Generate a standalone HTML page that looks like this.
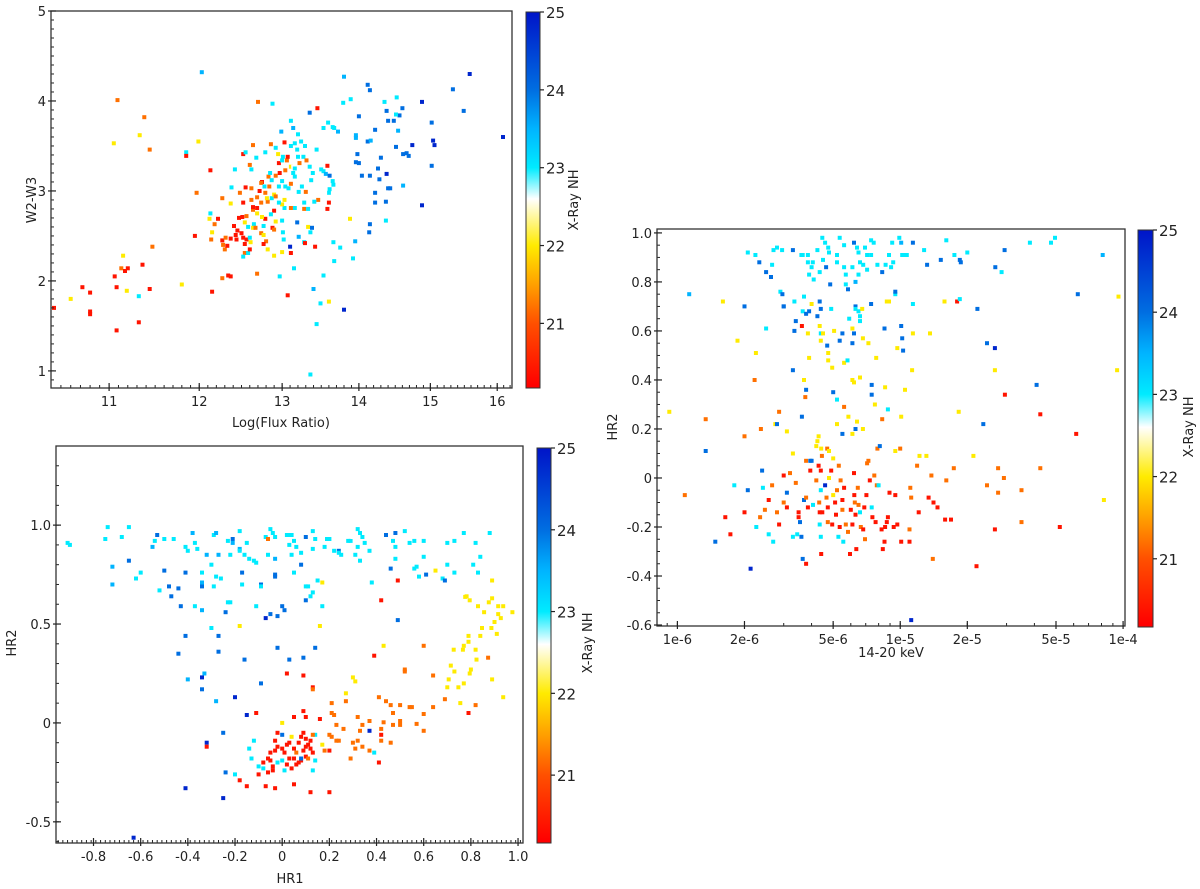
<!DOCTYPE html>
<html><head><meta charset="utf-8"><style>
html,body{margin:0;padding:0;background:#fff;}
svg{display:block;font-family:"DejaVu Sans","Liberation Sans",sans-serif;}
</style></head><body>
<svg id="fig" width="1200" height="889" viewBox="0 0 1200 889"></svg>
<script>
// ---------- data (x, y, X-Ray NH) ----------
const panel1Points = [
[10.43,1.70,20.4],[10.6,1.80,22],[10.72,1.93,20.4],[10.8,1.87,20.4],[10.8,1.66,20.4],[10.8,1.63,20.4],[10.87,2.10,22.6],[11.06,2.05,20.4],[11.08,1.93,20.4],[11.08,1.45,20.4],[11.13,2.14,21.2],[11.17,2.11,20.4],[11.2,2.14,20.4],[11.15,2.28,22],[11.19,1.89,22],[11.32,1.83,23],[11.32,1.54,20.4],[11.36,2.18,20.4],[11.44,1.91,20.4],[11.47,2.38,21.2],
[11.09,4.01,21.2],[11.05,3.53,22],[11.33,3.62,22],[11.38,3.82,21.2],[11.44,3.46,21.2],[11.85,3.43,23],[11.85,3.39,20.4],[11.8,1.96,22],[11.98,1.84,22.6],[11.97,2.98,21.2],[11.99,3.55,22],[12.03,4.32,23.5],[12.13,3.23,20.4],[12.13,2.75,23],[12.15,1.88,20.4],[11.95,2.5,20.4],[12.12,2.69,22],
[12.27,2.03,21.2],[12.34,2.06,20.4],[12.37,2.05,20.4],[12.69,2.08,21.2],[12.58,1.96,22.6],[13.07,1.84,20.4],[13.02,2.14,22.6],[12.97,2.05,23],[13.15,2.14,23],[13.4,1.91,23.5],[13.49,1.75,23],[13.6,1.77,22],[13.44,1.52,23],[13.36,0.96,23],[13.8,1.68,24.8],[13.67,2.22,23],[13.53,2.06,23],[13.92,2.25,23],[14.04,2.13,22.6],[13.95,2.44,23.5],[13.75,2.37,23],[13.66,2.43,23],[13.88,2.69,22],
[14.14,2.54,24],[14.15,2.63,24],[14.37,2.67,23],[14.22,2.87,24],[14.37,2.88,24],[14.22,2.98,24],[14.4,3.03,24],[14.43,3.03,24],[14.61,3.06,23.5],[14.88,2.84,24.8],[14.28,3.13,24],[14.38,3.19,24.8],[14.15,3.17,24],[14.04,3.17,24],[14.26,3.25,24],[14.3,3.37,24],[15.02,3.28,24],[15.04,3.56,24.8],[15.06,3.51,24.8],[15.02,3.76,24],[14.74,3.51,24.8],[14.69,3.39,24],[14.66,3.42,24],[14.61,3.41,24],[14.51,3.49,24],[14.54,3.67,23.5],[14.48,3.78,24],[14.56,3.84,24],[14.51,3.85,23],[14.38,3.89,24],[14.4,3.78,24],[14.6,3.92,24],[14.52,4.04,23],[14.35,3.99,23],[14.88,3.99,24.8],[14.12,4.18,24],[14.15,4.12,24],[15.33,4.13,24],[15.49,3.89,24],[15.58,4.30,24.8],[16.09,3.6,24.8],
[14.22,3.68,24],[14.12,3.55,24],[14.16,3.56,23.5],[13.96,3.62,23.5],[13.96,3.59,23.5],[13.98,3.41,24],[14.0,3.31,24],[13.96,3.32,24],[14.0,3.83,24],[13.89,4.02,23],[13.79,3.98,23],[13.8,4.27,23.5],[13.72,3.66,23.5],[13.65,3.71,23],[13.67,3.70,23],[13.59,3.76,23],[13.53,3.70,23],[13.49,3.77,22.6],[13.45,3.92,20.4],[13.35,3.87,24],[13.11,3.78,23],[13.14,3.70,23.5],[13.2,3.63,23],[12.88,3.97,23],[12.83,3.88,22.6],[12.7,3.99,21.2],[12.99,3.66,23.5],[13.03,3.54,20.4],[12.92,3.48,23],[12.86,3.52,21.2],[12.79,3.43,23],[12.68,3.37,23],[12.64,3.51,21.2],[12.52,3.41,20.4],[12.55,3.43,23],[12.6,3.29,21.2],[12.62,3.24,23],[12.42,3.24,23],[12.38,3.04,23],[12.48,2.98,21.2],[12.55,3.04,20.4],[12.62,3.03,21.2],[12.52,2.87,20.4],[12.27,2.92,21.2],[12.37,2.86,22],
[12.22,2.69,20.4],[12.18,2.63,21.2],[12.15,2.54,22],[12.14,2.46,21.2],[12.27,2.45,20.4],[12.28,2.40,21.2],[12.3,2.35,21.2],[12.33,2.39,20.4],[12.31,2.48,21.2],[12.37,2.47,20.4],[12.41,2.61,20.4],[12.43,2.51,20.4],[12.44,2.46,20.4],[12.45,2.56,20.4],[12.5,2.53,20.4],[12.52,2.48,20.4],[12.56,2.46,20.4],[12.47,2.70,20.4],[12.51,2.71,20.4],[12.56,2.72,21.2],[12.54,2.65,22],[12.58,2.6,23],[12.54,2.41,20.4],[12.54,2.31,21.2],[12.52,2.27,23],[12.58,2.31,23],[12.6,2.35,20.4],[12.6,2.48,23],[12.61,2.43,22],[12.65,2.63,23],[12.64,2.59,22],[12.67,2.59,21.2],[12.69,2.75,22],[12.69,2.81,20.4],[12.64,2.79,21.2],[12.62,2.9,21.2],[12.64,2.82,20.4],[12.74,2.87,21.2],[12.69,2.93,21.2],[12.72,3.0,20.4],[12.75,3.1,20.4],[12.74,3.09,21.2],[12.78,3.05,23],[12.83,3.16,21.2],[12.85,3.20,23],[12.87,3.12,23],[12.92,3.17,21.2],[12.97,3.2,20.4],[12.96,3.31,20.4],[12.95,3.41,22],[13.01,3.38,23],[13.0,3.34,23],[13.06,3.34,21.2],[13.07,3.38,20.4],[13.04,3.23,21.2],[13.11,3.27,22],[13.14,3.27,22.6],[13.16,3.16,23],[13.14,3.2,23],[13.16,3.25,23],[13.22,3.31,21.2],[13.2,3.38,23],[13.19,3.46,23],[13.11,3.5,23],[13.16,3.53,23],[13.24,3.55,23],[13.29,3.5,23],[13.27,3.38,23],[13.31,3.34,21.2],[13.35,3.27,23],[13.39,3.2,23],[13.37,3.12,23],[13.25,3.05,23],[13.3,2.99,21.2],[13.21,2.99,23],[13.44,3.46,23],[13.46,3.31,22.6],[13.5,3.24,23],[13.53,3.22,23],[13.56,3.19,23.5],[13.58,3.28,20.4],[13.61,3.17,24],[13.65,3.11,23],[13.66,3.07,23],[13.6,2.98,23],[13.55,2.98,22.6],[13.61,3.02,23],[13.6,2.87,20.4],[13.46,2.9,21.2],[13.41,2.88,23],[13.28,2.87,23],[13.28,2.8,21.2],[13.33,2.8,23],[13.58,2.8,20.4],
[13.16,2.81,23],[13.11,2.81,21.2],[13.03,2.81,23],[13.0,2.85,22],[12.96,2.87,23],[13.03,2.9,22],[12.82,2.88,21.2],[12.87,2.92,23],[12.9,2.96,22],[12.92,2.94,21.2],[12.79,2.98,21.2],[12.81,2.92,22],[12.84,3.05,21.2],[12.96,3.05,23],[13.0,3.11,23],[13.04,3.05,23],[13.08,3.03,23],[13.11,3.08,21.2],[12.9,2.78,20.4],[12.86,2.74,23],[12.79,2.69,20.4],[12.75,2.71,22],[12.77,2.61,23],[12.92,2.66,22],[12.88,2.59,20.4],[12.9,2.57,21.2],[13.0,2.67,23],[13.01,2.54,23],[13.02,2.46,23],[13.19,2.65,24],[12.74,2.53,21.2],[12.77,2.51,22],[12.8,2.44,21.2],[12.77,2.41,20.4],[12.82,2.35,22],[12.9,2.28,22],[13.0,2.32,22],[13.1,2.38,24.8],[13.11,2.31,20.4],[13.21,2.49,23.5],[13.28,2.43,23],[13.29,2.42,20.4],[13.33,2.6,22],[13.38,2.59,24],[13.36,2.54,23],[13.42,2.38,20.4]
];
const panel2Points = [
[-0.91,0.91,23],[-0.90,0.90,23],[-0.75,0.93,23],[-0.74,0.99,23],[-0.68,0.94,23],[-0.65,0.99,23],[-0.72,0.79,23.5],[-0.72,0.70,23.5],[-0.65,0.82,24],[-0.62,0.73,23],[-0.60,0.76,23],[-0.55,0.89,23.5],[-0.54,0.92,23],[-0.53,0.95,24],[-0.52,0.67,23],[-0.50,0.77,24],[-0.50,0.93,23],[-0.46,0.93,23],[-0.48,0.69,24],[-0.47,0.64,24],[-0.44,0.68,24],[-0.43,0.59,24],[-0.41,0.76,24],[-0.41,0.44,24],[-0.44,0.35,24],
[-0.41,0.89,23],[-0.40,0.87,23],[-0.38,0.96,23.5],[-0.37,0.91,23],[-0.36,0.88,23],[-0.37,0.59,23],[-0.34,0.57,23.5],[-0.34,0.69,24],[-0.34,0.71,23.5],[-0.34,0.76,23],[-0.32,0.85,23.5],[-0.30,0.80,23],[-0.29,0.95,23],[-0.28,0.96,23.5],[-0.28,0.74,23],[-0.26,0.73,23],[-0.29,0.69,23],[-0.30,0.48,23],[-0.27,0.44,24],[-0.27,0.36,24],[-0.40,0.22,23.5],[-0.34,0.23,24.8],[-0.34,0.17,24],[-0.33,0.25,23.5],[-0.28,0.11,23.5],
[-0.27,0.85,23.5],[-0.23,0.92,23],[-0.22,0.85,23],[-0.21,0.93,24],[-0.21,0.91,23.5],[-0.23,0.61,23],[-0.22,0.61,23],[-0.24,0.56,24],[-0.18,0.88,23.5],[-0.17,0.76,24],[-0.17,0.70,23],[-0.18,0.87,23],[-0.18,0.97,23],[-0.16,0.32,24],[-0.20,0.13,24.8],[-0.15,0.04,24.8],[-0.18,0.49,22],[-0.16,0.85,23],[-0.15,0.91,23],[-0.14,0.83,23],[-0.11,0.81,23],[-0.12,0.82,23],[-0.09,0.70,24],[-0.09,0.69,23],[-0.11,0.59,23],[-0.09,0.20,24],
[-0.07,0.53,24.8],[-0.05,0.55,24],[-0.02,0.54,24],[-0.02,0.38,24],[0.03,0.32,24],[-0.03,0.74,24],[-0.03,0.75,24],[0.0,0.59,24],[0.01,0.57,24],[-0.07,0.94,23],[-0.05,0.98,23],[-0.04,0.96,23],[-0.03,0.94,23],[-0.06,0.93,21.2],[-0.03,0.83,23.5],[-0.06,0.85,23],[0.02,0.95,23],[0.03,0.90,23],[0.03,0.95,23],[0.04,0.95,23],[0.05,0.92,23],[0.04,0.85,23],[0.06,0.89,23],[0.08,0.80,24],[0.08,0.86,23],[0.05,0.76,23],[0.10,0.94,24],[0.10,0.69,23],[0.11,0.69,23],[0.10,0.62,24],[0.12,0.64,23],[0.13,0.66,23],[0.14,0.38,24],[0.09,0.33,24],[0.15,0.72,23],[0.17,0.59,23],[-0.02,0.69,22.6],[0.17,0.71,22],[0.16,0.49,22],
[0.13,0.97,23],[0.14,0.93,23],[0.13,0.88,23],[0.18,0.89,23],[0.19,0.93,23],[0.20,0.93,23],[0.22,0.87,23],[0.24,0.87,24],[0.24,0.86,23],[0.25,0.85,23],[0.28,0.92,23],[0.29,0.92,23],[0.30,0.94,22.6],[0.32,0.98,23],[0.33,0.96,23],[0.34,0.94,23],[0.32,0.89,23],[0.31,0.85,23],[0.33,0.82,23],[0.35,0.91,23],[0.37,0.87,23],[0.38,0.79,22.6],[0.39,0.80,22.6],[0.38,0.71,23],[0.42,0.77,22.6],[0.44,0.95,24],[0.46,0.78,24],[0.47,0.92,23],[0.48,0.89,23],[0.48,0.83,23],[0.48,0.96,24],[0.49,0.72,20.4],[0.49,0.52,24],[0.42,0.62,20.4],[0.39,0.34,20.4],
[0.52,0.97,23],[0.54,0.91,23],[0.56,0.92,23],[0.56,0.78,23],[0.57,0.79,23],[0.60,0.92,23],[0.60,0.84,23],[0.58,0.74,23],[0.61,0.75,24],[0.63,0.72,22.6],[0.65,0.77,22],[0.66,0.69,22.6],[0.68,0.73,23],[0.70,0.91,23],[0.70,0.80,23],[0.69,0.72,24],[0.73,0.76,23],[0.73,0.92,23],[0.77,0.96,23],[0.77,0.89,22.6],[0.76,0.79,22.6],[0.81,0.80,23],[0.81,0.77,22.6],[0.82,0.91,23],[0.83,0.76,23],[0.84,0.84,23],[0.87,0.85,22.6],[0.88,0.96,23],[0.83,0.73,22.6],[0.85,0.72,22.6],[0.87,0.76,22.6],[0.89,0.72,22],[0.91,0.76,22.6],[0.94,0.76,22.6],[0.95,0.75,22.6],
[0.776,0.637,22],[0.782,0.64,22],[0.795,0.62,22],[0.83,0.59,22],[0.856,0.56,22],[0.876,0.61,22],[0.89,0.63,22],[0.916,0.59,22],[0.937,0.59,22],[0.976,0.56,22],[0.916,0.55,22],[0.927,0.53,22],[0.90,0.51,22],[0.887,0.48,22],[0.847,0.48,22],[0.84,0.44,22],[0.79,0.44,22],[0.79,0.41,22],[0.77,0.39,22],[0.82,0.37,22],[0.91,0.45,22],[0.873,0.33,21.2],[0.824,0.32,22],[0.80,0.27,22],[0.715,0.29,22],[0.706,0.22,22],[0.70,0.18,22],[0.73,0.26,22],[0.747,0.18,22],[0.77,0.20,22],[0.795,0.25,22],[0.89,0.22,22],[0.937,0.13,22],[0.755,0.10,22],[0.69,0.12,21.2],[0.82,0.09,21.2],[0.79,0.05,20.4],[0.766,0.37,22],[0.727,0.37,22],
[0.60,0.39,21.2],[0.64,0.24,21.2],[0.52,0.27,21.2],[0.52,0.26,21.2],[0.43,0.39,22],[0.41,0.13,21.2],[0.44,0.11,21.2],[0.46,0.09,21.2],[0.47,0.05,21.2],[0.50,0.09,21.2],[0.54,0.08,21.2],[0.55,0.08,21.2],[0.50,0.01,21.2],[0.57,-0.005,21.2],[0.60,0.045,21.2],[0.60,-0.04,21.2],[0.64,0.08,21.2],[0.50,-0.01,21.2],[0.47,-0.01,21.2],[0.43,0.003,21.2],[0.42,-0.03,21.2],[0.42,-0.06,20.4],[0.42,-0.09,21.2],[0.46,-0.10,21.2],[0.41,-0.20,20.4],[0.39,-0.15,23],[0.37,-0.04,24.8],[0.37,0.01,21.2],[0.34,-0.01,21.2],[0.33,-0.04,21.2],[0.32,-0.09,21.2],[0.30,-0.10,21.2],[0.31,-0.13,21.2],[0.34,-0.12,21.2],[0.37,-0.14,21.2],[0.29,-0.18,21.2],[0.26,-0.03,21.2],[0.23,-0.01,21.2],[0.22,0.04,21.2],[0.21,0.05,21.2],[0.21,0.10,21.2],[0.27,0.11,21.2],[0.27,0.15,22],[0.30,0.23,22],[0.31,0.21,22],[0.32,0.03,21.2],[0.23,-0.09,21.2],[0.24,-0.09,21.2],[0.20,-0.14,20.4],[0.18,-0.14,21.2],[0.17,-0.11,22],[0.20,-0.06,21.2],[0.21,-0.07,21.2],[0.16,0.02,20.4],[0.14,-0.06,23],[0.13,-0.06,21.2],[0.13,0.18,20.4],[0.13,0.17,21.2],[0.09,0.06,20.4],[0.10,0.03,20.4],[0.09,0.24,20.4],[0.02,0.25,20.4],[0.05,0.03,20.4],[0.0,0.0,22],[-0.11,0.05,20.4],
[0.20,-0.35,20.4],[0.12,-0.35,20.4],[0.05,-0.31,20.4],[-0.03,-0.33,20.4],[-0.07,-0.32,20.4],[-0.15,-0.32,20.4],[-0.18,-0.29,20.4],[-0.20,-0.26,23],[-0.24,-0.25,24],[-0.25,-0.05,24],[-0.32,-0.10,24.8],[-0.32,-0.12,20.4],[-0.41,-0.33,24.8],[-0.25,-0.38,24.8],[-0.12,-0.09,23],[-0.14,-0.13,23],[-0.13,-0.18,23],[-0.10,-0.26,20.4],[-0.08,-0.23,23],[-0.10,-0.22,23],
[-0.08,-0.20,20.4],[-0.06,-0.18,20.4],[-0.05,-0.15,20.4],[-0.04,-0.22,20.4],[-0.03,-0.14,20.4],[-0.02,-0.12,20.4],[0.0,-0.13,20.4],[0.01,-0.15,20.4],[0.02,-0.11,20.4],[-0.03,-0.09,20.4],[-0.02,-0.05,20.4],[0.0,-0.06,24],[0.03,-0.10,20.4],[0.04,-0.07,22],[0.05,-0.13,20.4],[0.07,-0.10,20.4],[0.08,-0.07,20.4],[0.09,-0.05,20.4],[0.10,-0.08,20.4],[0.11,-0.11,20.4],[0.12,-0.13,20.4],[0.13,-0.15,20.4],[0.10,-0.17,20.4],[0.08,-0.19,20.4],[0.06,-0.21,20.4],[0.04,-0.23,20.4],[0.02,-0.21,20.4],[0.0,-0.19,23],[-0.02,-0.20,23],[0.09,-0.14,20.4],[0.11,-0.18,21.2],[0.13,-0.24,23],[-0.04,-0.24,20.4],[-0.06,-0.25,20.4],[0.01,-0.24,23],[0.07,-0.20,20.4],[0.05,-0.18,20.4],[-0.05,-0.19,20.4],[0.06,-0.15,21.2],[0.03,-0.18,20.4],[0.10,-0.12,20.4],[0.12,-0.09,20.4],[0.14,-0.19,23],[0.08,-0.18,24],[-0.63,-0.58,24.8]
];
// panel 3: x in units of 1e-6 (14-20 keV flux), y = HR2
const panel3Points = [
[2.07,0.92,23],[2.24,0.91,23],[2.33,0.88,24],[2.5,0.84,24],[2.63,0.82,24],[2.66,0.87,23],[2.8,0.94,23],[2.7,0.93,23],[2.95,0.93,23],[2.9,0.76,23],[2.96,0.75,24],[3.0,0.70,24],[3.3,0.93,24],[3.35,0.72,23],[3.4,0.64,24],[3.35,0.6,24],[3.6,0.91,23],[3.65,0.91,23],[3.7,0.74,23],[3.65,0.68,23],[3.85,0.91,23],[3.85,0.88,23],[3.9,0.83,23],[4.0,0.86,23],[4.09,0.81,23],
[4.05,0.88,23],[4.25,0.93,23],[4.35,0.84,23],[4.47,0.98,23],[4.5,0.89,23],[4.6,0.96,23],[4.65,0.86,24],[4.75,0.94,23],[4.79,0.92,23],[4.85,0.79,24],[4.9,0.69,23],[5.2,0.91,23],[5.2,0.88,23],[5.35,0.98,23],[5.6,0.95,23],[5.6,0.86,23],[5.7,0.83,23],[5.7,0.79,23],[5.83,0.77,24],[6.1,0.86,23],[6.2,0.96,24],[6.3,0.80,23.5],[6.4,0.94,23],[6.5,0.92,23],[6.5,0.83,23],[6.6,0.88,23],[6.82,0.87,23],[6.95,0.94,23],[7.1,0.91,23],[7.1,0.85,23],[7.4,0.97,23],[7.4,0.91,23],[7.6,0.96,23],[7.9,0.87,23],[8.3,0.84,24],[8.6,0.87,23],[8.9,0.91,23],[9.1,0.86,23],[9.2,0.96,23],[9.3,0.88,23],
[9.9,0.98,23],[10.1,0.96,23.5],[10.2,0.91,23],[10.5,0.91,23],[10.7,0.91,23],[11.4,0.96,24],[12.8,0.93,23],[13.2,0.87,24],[15.2,0.89,24],[16.1,0.97,23],[17.5,0.91,23],[18.5,0.89,24],[18.7,0.88,24],[20,0.92,23],[19.9,0.85,22.6],[26.7,0.86,24],[28.5,0.84,23],[29.4,0.93,24],[38.2,0.96,23],[47.5,0.96,23],[49.5,0.98,23],[81,0.91,23.5],[62.6,0.75,24],[1.13,0.75,23.5],[95.4,0.74,22],
[1.6,0.72,22],[1.6,0.62,22.6],[1.86,0.56,22],[2.0,0.70,24],[2.25,0.51,22],[2.4,0.63,22.6],[2.5,0.61,23],[2.85,0.70,22.6],[3.0,0.70,24],
[3.62,0.62,20.4],[3.85,0.59,22],[3.9,0.49,22],[3.78,0.67,24],[3.9,0.68,24],[4.0,0.71,22],[4.09,0.76,22.6],[4.25,0.66,24],[4.35,0.72,24],[4.4,0.69,24],[4.35,0.62,22],[4.4,0.59,23],[4.4,0.56,22],[4.5,0.59,22],[4.7,0.54,24],[4.75,0.51,22],[4.75,0.48,22],[4.95,0.45,22],[5.05,0.60,22],[5.35,0.56,24],[5.5,0.59,24],[5.6,0.47,22],[5.8,0.48,23],[5.9,0.65,23],[6.1,0.55,24],[6.1,0.61,22],[6.2,0.59,24],[6.3,0.70,24],[6.3,0.69,23],[6.5,0.68,23],[6.6,0.64,23],[6.6,0.66,23],[6.75,0.69,22],[6.8,0.57,22],[7.1,0.59,22.6],[7.2,0.55,22],[7.4,0.71,24],[7.6,0.78,22.6],[7.8,0.49,22],[8.5,0.61,24],[8.7,0.72,22],[8.9,0.72,22],[9.5,0.75,23],[9.5,0.76,24],[9.7,0.53,22],[10.1,0.62,24],[10.2,0.57,24],[10.3,0.52,24],[11.4,0.71,23],[11.4,0.59,22],[11.7,0.63,22.6],[13.6,0.59,22],[14.7,0.79,22.6],[15.8,0.72,22],[18,0.72,20.4],[18.5,0.73,23],[22.2,0.69,24],[24.5,0.55,24],[26.6,0.53,24.8],[26.6,0.44,22],
[0.92,0.27,22],[1.34,0.24,21.2],[1.34,0.11,24],[2.0,0.17,21.2],[2.22,0.40,21.2],[2.37,0.20,21.2],[2.7,0.31,22.6],[2.75,0.22,22],[2.8,0.22,24],[2.86,0.27,21.2],[3.1,0.19,22],[3.3,0.44,24],[3.3,0.10,22],
[3.62,0.25,24],[3.7,0.40,22],[3.78,0.36,24],[3.75,0.33,21.2],[3.78,0.07,21.2],[3.95,0.07,24],[4.2,0.13,22],[4.25,0.15,22],[4.3,0.17,22],[4.42,0.12,22],[4.45,0.09,21.2],[4.7,0.12,21.2],[4.79,0.11,22],[5.0,0.08,22],[5.0,0.35,24],[5.2,0.32,23],[5.2,0.22,22],[5.3,0.05,21.2],[5.6,0.29,21.2],[5.85,0.25,22],[5.5,0.18,24],[6.1,0.18,22],[6.1,0.40,22],[6.2,0.39,22],[6.3,0.20,24],[6.4,0.23,22],[6.6,0.41,22],[6.8,0.20,22],[7.1,0.06,21.2],[7.7,0.30,22],[7.45,0.34,24],[7.45,0.38,24],[7.9,0.12,21.2],[8.1,0.13,24],[8.3,0.24,21.2],[8.55,0.37,22],[8.8,0.28,23],[9.5,0.11,22],[10,0.12,21.2],[10.1,0.25,22],[10.5,0.36,22],[11.3,0.44,22],[12.2,0.09,22],[13.1,0.09,22],
[18.3,0.27,22],[21.3,0.09,22],[23.6,0.22,24],[29.5,0.34,20.4],[40.9,0.38,24],[42.5,0.26,20.4],[61.6,0.18,20.4],[94,0.44,22],[42.5,0.04,21.2],[27.5,0.04,21.2],[29.2,0.0,21.2],[24.5,-0.03,21.2],[27.5,-0.06,21.2],[35,-0.05,21.2],[35,-0.18,21.2],[52,-0.20,20.4],[26.6,-0.21,20.4],[22,-0.36,20.4],[82,-0.09,22],[16.1,-0.01,21.2],[17.4,0.04,21.2],[13.8,0.01,21.2],[11.9,0.05,21.2],[14,-0.33,21.2],[15.9,-0.17,20.4],[16.9,-0.17,20.4],[14.7,-0.12,20.4],[14.1,-0.10,20.4],[13.4,-0.08,20.4],[12.1,-0.14,20.4],[11.1,-0.04,21.2],[11.2,-0.08,21.2],[11.0,-0.21,21.2],[11.0,-0.26,20.4],[11.2,-0.58,24.8],
[1.08,-0.07,21.2],[1.64,-0.16,20.4],[1.73,-0.23,20.4],[1.48,-0.26,24],[1.39,-0.23,22.6],[1.8,-0.03,23],[2.0,-0.14,20.4],[2.07,-0.05,24],[2.13,-0.37,24.8],[2.26,-0.20,23],[2.35,-0.16,21.2],[2.4,0.03,24],[2.42,-0.04,23],[2.47,-0.13,21.2],[2.57,-0.09,20.4],[2.57,-0.23,23],[2.66,-0.03,21.2],[2.69,-0.26,23],[2.8,-0.14,21.2],[2.86,-0.19,20.4],[3.0,0.01,20.4],[3.1,-0.12,20.4],[3.1,-0.06,24],[3.0,-0.10,21.2],[3.2,0.02,21.2],[3.3,-0.24,23],[3.4,-0.02,21.2],[3.45,-0.23,23],[3.5,-0.14,20.4],[3.55,-0.18,24],[3.5,-0.16,20.4],[3.6,-0.24,24],[3.65,-0.33,24],[3.78,-0.35,20.4],[3.7,-0.09,24],[3.78,-0.08,21.2],[3.85,-0.12,20.4],[3.95,0.03,20.4],[4.0,0.07,24],
[4.06,-0.11,23],[4.2,-0.01,21.2],[4.3,0.05,20.4],[4.33,-0.10,21.2],[4.35,-0.19,23],[4.35,-0.14,20.4],[4.4,0.03,20.4],[4.4,-0.05,23],[4.4,-0.24,23],[4.42,-0.31,20.4],[4.47,-0.14,20.4],[4.6,-0.03,24.8],[4.67,-0.08,21.2],[4.73,-0.12,20.4],[4.73,-0.18,21.2],[4.79,0.0,22],[4.9,0.03,20.4],[4.95,-0.19,20.4],[5.0,-0.07,22],[5.1,-0.10,20.4],[5.15,-0.15,20.4],[5.2,-0.05,21.2],[5.28,-0.24,23],[5.35,-0.20,20.4],[5.4,-0.01,21.2],[5.5,-0.13,21.2],[5.5,-0.09,20.4],[5.55,-0.26,23],[5.6,-0.04,20.4],[5.7,-0.19,21.2],[5.83,-0.22,21.2],[5.95,-0.31,20.4],[6.0,-0.13,20.4],[6.1,-0.19,20.4],[6.2,0.02,20.4],[6.22,-0.07,20.4],[6.25,-0.10,21.2],[6.3,-0.15,20.4],[6.35,-0.29,20.4],[6.45,-0.04,21.2],[6.5,-0.11,21.2],[6.6,-0.14,23],[6.65,-0.20,21.2],[6.82,-0.21,20.4],[6.9,-0.12,20.4],[6.95,-0.25,21.2],[7.05,-0.07,20.4],[7.2,0.07,21.2],[7.3,-0.01,20.4],[7.45,-0.12,23],[7.5,-0.16,20.4],[7.65,0.01,21.2],[7.75,-0.18,20.4],[7.85,-0.03,21.2],[8.0,-0.03,23],[8.25,-0.21,20.4],[8.35,-0.29,20.4],[8.5,-0.26,20.4],[8.55,-0.20,20.4],[8.7,-0.18,20.4],[8.8,-0.16,20.4],[8.95,-0.06,20.4],[9.35,-0.20,20.4],[9.5,-0.07,20.4],[9.7,-0.19,20.4],[10.1,-0.26,20.4]
];
const p1XTicks = [11,12,13,14,15,16];
const p1YTicks = [1,2,3,4,5];
const p2XTicks = [-0.8,-0.6,-0.4,-0.2,0,0.2,0.4,0.6,0.8,1.0];
const p2XLabels = ["-0.8","-0.6","-0.4","-0.2","0","0.2","0.4","0.6","0.8","1.0"];
const p2YTicks = [-0.5,0,0.5,1.0];
const p2YLabels = ["-0.5","0","0.5","1.0"];
const p3XTicks = [1,2,5,10,20,50,100];
const p3XLabels = ["1e-6","2e-6","5e-6","1e-5","2e-5","5e-5","1e-4"];
const p3YTicks = [-0.6,-0.4,-0.2,0,0.2,0.4,0.6,0.8,1.0];
const p3YLabels = ["-0.6","-0.4","-0.2","0","0.2","0.4","0.6","0.8","1.0"];
const cbTicks = [21,22,23,24,25];

// ---------- drawing ----------
const NS = "http://www.w3.org/2000/svg";
const svg = document.getElementById('fig');
function mk(tag, attrs, parent){
  const e = document.createElementNS(NS, tag);
  for (const k in attrs) e.setAttribute(k, attrs[k]);
  (parent||svg).appendChild(e);
  return e;
}
const stops = [[20.2,[255,0,0]],[21,[255,80,0]],[21.5,[255,160,0]],[22,[255,235,0]],[22.6,[255,255,255]],[23,[0,235,255]],[23.5,[0,180,255]],[24,[0,110,225]],[25,[0,20,200]]];
function cmap(v){
  if (v<=stops[0][0]) return 'rgb('+stops[0][1]+')';
  for (let i=1;i<stops.length;i++){
    if (v<=stops[i][0]){
      const a=stops[i-1], b=stops[i], t=(v-a[0])/(b[0]-a[0]);
      const c=a[1].map((x,j)=>Math.round(x+(b[1][j]-x)*t));
      return 'rgb('+c.join(',')+')';
    }
  }
  return 'rgb('+stops[stops.length-1][1]+')';
}
function scaleLin(d0,d1,r0,r1){ return v=> r0+(v-d0)/(d1-d0)*(r1-r0); }
function scaleLog(d0,d1,r0,r1){ return v=> r0+(Math.log(v)-Math.log(d0))/(Math.log(d1)-Math.log(d0))*(r1-r0); }
const gid = {n:0};
function defGrad(){
  const defs = mk('defs',{});
  const g = mk('linearGradient',{id:'cbgrad',x1:0,y1:1,x2:0,y2:0},defs);
  const lo=20.17, hi=25;
  stops.forEach(s=>{ const off=Math.max(0,(s[0]-lo)/(hi-lo)); mk('stop',{offset:off,'stop-color':cmap(s[0])},g); });
}
defGrad();

function panel(cfg){
  const g = mk('g',{});
  
  
  const {L,R,T,B} = cfg;
  const sx = cfg.xlog ? scaleLog(cfg.x0,cfg.x1,L,R) : scaleLin(cfg.x0,cfg.x1,L,R);
  const sy = scaleLin(cfg.y0,cfg.y1,B,T);
  mk('rect',{x:L,y:T,width:R-L,height:B-T,fill:'#fff'},g);
  // points
  const pg = mk('g',{},g);
  
  
  cfg.points.forEach(p=>{
    const x=sx(p[0]), y=sy(p[1]);
    const r = mk('rect',{x:(x-2).toFixed(1),y:(y-2).toFixed(1),width:4,height:4,fill:cmap(p[2])},pg);
    
    
  });
  // minor ticks
  cfg.xMinor.forEach(v=>{ const x=sx(v); if(x>L&&x<R) mk('line',{x1:x,x2:x,y1:B,y2:B-3,stroke:'#222','stroke-width':1},g); });
  cfg.yMinor.forEach(v=>{ const y=sy(v); if(y>T&&y<B) mk('line',{x1:L,x2:L+3,y1:y,y2:y,stroke:'#222','stroke-width':1},g); });
  // frame
  const fr = mk('rect',{x:L,y:T,width:R-L,height:B-T,fill:'none',stroke:'#333','stroke-width':1.3},g);
  
  
  // major ticks and labels
  cfg.xTicks.forEach((v,i)=>{
    const x=sx(v);
    mk('line',{x1:x,x2:x,y1:B+3,y2:B-5,stroke:'#222','stroke-width':1.2},g);
    const t=mk('text',{x:x,y:B+18,'text-anchor':'middle','font-size':13,fill:'#222'},g);
    t.textContent = cfg.xLabels[i];
    
    
  });
  cfg.yTicks.forEach((v,i)=>{
    const y=sy(v);
    mk('line',{x1:L-3,x2:L+5,y1:y,y2:y,stroke:'#222','stroke-width':1.2},g);
    const t=mk('text',{x:L-5,y:y+5,'text-anchor':'end','font-size':13,fill:'#222'},g);
    t.textContent = cfg.yLabels[i];
    
    
  });
  const xl=mk('text',{x:cfg.xlx,y:cfg.xly,'text-anchor':'middle','font-size':13,fill:'#222'},g);
  xl.textContent=cfg.xTitle;
  
  
  const yl=mk('text',{x:cfg.ylx,y:cfg.yly,'text-anchor':'middle','font-size':13,fill:'#222',transform:'rotate(-90 '+cfg.ylx+' '+cfg.yly+')'},g);
  yl.textContent=cfg.yTitle;
  
  
  // colorbar
  const c=cfg.cb;
  const cg = mk('g',{},g);
  
  
  mk('rect',{x:c.x,y:c.t,width:c.w,height:c.b-c.t,fill:'url(#cbgrad)',stroke:'#333','stroke-width':1},cg);
  const sc = scaleLin(20.17,25,c.b,c.t);
  cbTicks.forEach(v=>{
    const y=sc(v);
    mk('line',{x1:c.x+c.w,x2:c.x+c.w+4,y1:y,y2:y,stroke:'#222','stroke-width':1.2},cg);
    const t=mk('text',{x:c.x+c.w+6,y:y+6,'font-size':15,fill:'#222'},cg);
    t.textContent=String(v);
    
    
  });
  const cl=mk('text',{x:c.lx,y:c.ly,'text-anchor':'middle','font-size':13,fill:'#222',transform:'rotate(-90 '+c.lx+' '+c.ly+')'},cg);
  cl.textContent='X-Ray NH';
  
  
}
function range(a,b,s){ const r=[]; for(let v=a; v<=b+1e-9; v+=s) r.push(+v.toFixed(4)); return r; }
function logMinor(){ const r=[]; [0.1,1,10].forEach(d=>{ for(let k=1;k<10;k++) r.push(k*d);}); r.push(100); return r; }

panel({name:'wise-color-panel', L:51,R:512,T:11,B:388, xlog:true, x0:10.40,x1:16.23, y0:0.81,y1:5.0,
  points:panel1Points, xTicks:p1XTicks, xLabels:p1XTicks.map(String), yTicks:p1YTicks, yLabels:p1YTicks.map(String),
  xMinor:range(10.4,16.2,0.1), yMinor:range(0.9,5,0.1),
  xTitle:'Log(Flux Ratio)', xlx:281, xly:427, yTitle:'W2-W3', ylx:36, yly:200,
  cb:{x:526,w:14,t:12,b:388,lx:578,ly:200}});
panel({name:'hardness-ratio-panel', L:56,R:523,T:446,B:843, xlog:false, x0:-0.959,x1:1.021, y0:-0.607,y1:1.40,
  points:panel2Points, xTicks:p2XTicks, xLabels:p2XLabels, yTicks:p2YTicks, yLabels:p2YLabels,
  xMinor:range(-0.95,1.02,0.02), yMinor:range(-0.6,1.4,0.1),
  xTitle:'HR1', xlx:290, xly:883, yTitle:'HR2', ylx:16, yly:643,
  cb:{x:537,w:14,t:448,b:843,lx:592,ly:643}});
panel({name:'flux-hr2-panel', L:657,R:1125,T:229,B:626, xlog:true, x0:0.81,x1:102, y0:-0.604,y1:1.016,
  points:panel3Points, xTicks:p3XTicks, xLabels:p3XLabels, yTicks:p3YTicks, yLabels:p3YLabels,
  xMinor:logMinor(), yMinor:range(-0.6,1.0,0.05),
  xTitle:'14-20 keV', xlx:891, xly:657, yTitle:'HR2', ylx:617, yly:427,
  cb:{x:1138,w:15,t:230,b:627,lx:1193,ly:427}});
</script>
</body></html>
